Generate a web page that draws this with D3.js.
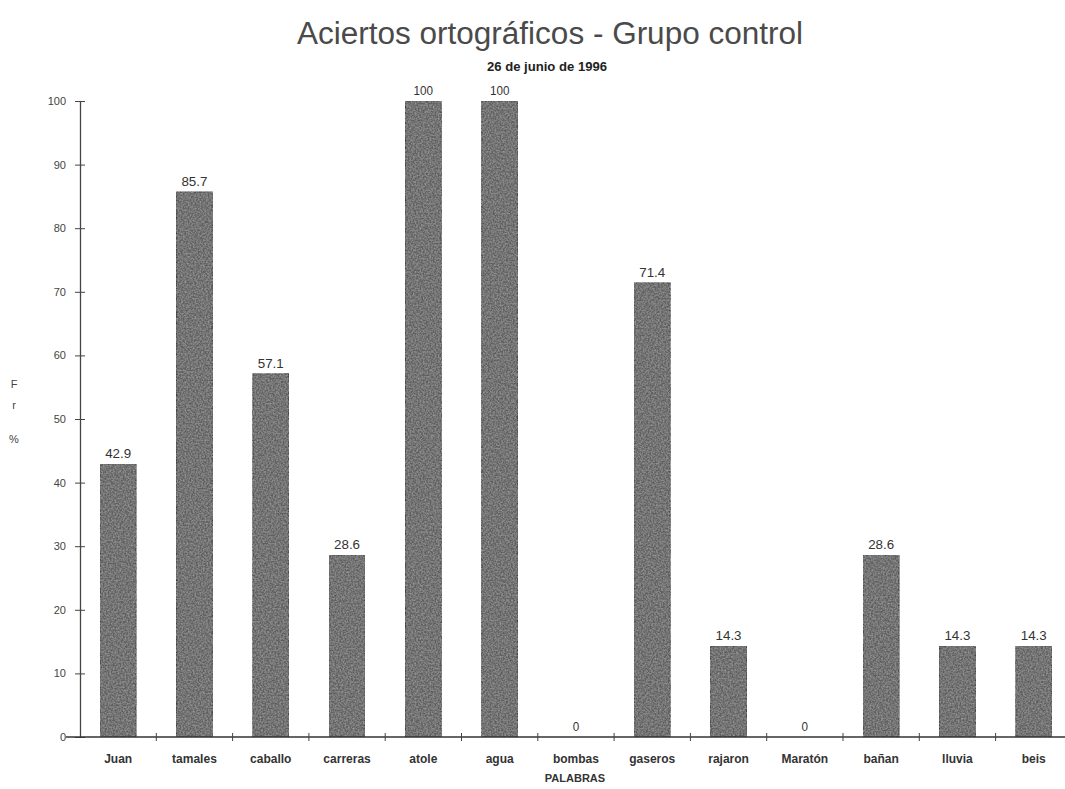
<!DOCTYPE html>
<html>
<head>
<meta charset="utf-8">
<script src="https://cdn.jsdelivr.net/npm/d3@7"></script>
<style>
  html, body { margin: 0; padding: 0; background: #fff; }
  svg { display: block; }
  text { font-family: "Liberation Sans", Arial, sans-serif; fill: #333; }
</style>
</head>
<body>
<svg id="chart" width="1065" height="789"></svg>
<script>
// Palabras evaluadas y porcentaje de aciertos
const palabras = ["Juan", "tamales", "caballo", "carreras", "atole", "agua", "bombas",
                  "gaseros", "rajaron", "Maratón", "bañan", "lluvia", "beis"];
const aciertos = [42.9, 85.7, 57.1, 28.6, 100, 100, 0, 71.4, 14.3, 0, 28.6, 14.3, 14.3];
const yTicks = [0, 10, 20, 30, 40, 50, 60, 70, 80, 90, 100];

const titulo = "Aciertos ortográficos - Grupo control";
const subtitulo = "26 de junio de 1996";
const ejeX = "PALABRAS";
const ejeY = ["F", "r", "%"];

const svg = d3.select("#chart");
const W = 1065;

// Textura granulada de las barras
const defs = svg.append("defs");
const f = defs.append("filter").attr("id", "grano").attr("x", 0).attr("y", 0).attr("width", 1).attr("height", 1);
f.append("feTurbulence").attr("type", "fractalNoise").attr("baseFrequency", 0.6).attr("numOctaves", 2).attr("seed", 3).attr("result", "ruido");
f.append("feColorMatrix").attr("in", "ruido").attr("type", "matrix")
  .attr("values", "0 0 0 0 0.33  0 0 0 0 0.33  0 0 0 0 0.33  0 0 0 -1.6 1.1").attr("result", "gris");
f.append("feComposite").attr("in", "gris").attr("in2", "SourceGraphic").attr("operator", "atop");

const x0 = 80, plotTop = 101, plotBottom = 737;

const x = d3.scaleBand()
  .domain(palabras)
  .range([x0, x0 + 13 * 76.3])
  .paddingInner(0.53)
  .paddingOuter(0.265);

const y = d3.scaleLinear().domain([0, 100]).range([plotBottom, plotTop]);

// Título
svg.append("text")
  .attr("x", 550).attr("y", 44)
  .attr("text-anchor", "middle")
  .attr("textLength", 506)
  .attr("lengthAdjust", "spacingAndGlyphs")
  .style("font-size", "31px")
  .style("fill", "#4a4a4a")
  .text(titulo);

svg.append("text")
  .attr("x", 547).attr("y", 71)
  .attr("text-anchor", "middle")
  .attr("textLength", 120)
  .attr("lengthAdjust", "spacingAndGlyphs")
  .style("font-size", "12px")
  .style("font-weight", "bold")
  .style("fill", "#222")
  .text(subtitulo);

// Barras
svg.append("g").selectAll("rect")
  .data(palabras)
  .join("rect")
  .attr("x", d => x(d))
  .attr("y", (d, i) => y(aciertos[i]))
  .attr("width", x.bandwidth())
  .attr("height", (d, i) => y(0) - y(aciertos[i]))
  .attr("fill", "#5e5e5e")
  .attr("stroke", "#3a3a3a")
  .attr("stroke-width", 1)
  .attr("filter", "url(#grano)");

// Valores sobre las barras
svg.append("g").selectAll("text")
  .data(palabras)
  .join("text")
  .attr("x", d => x(d) + x.bandwidth() / 2)
  .attr("y", (d, i) => y(aciertos[i]) - 6)
  .attr("text-anchor", "middle")
  .attr("textLength", (d, i) => String(aciertos[i]).length * 6.5)
  .attr("lengthAdjust", "spacingAndGlyphs")
  .style("font-size", "13px")
  .style("fill", "#333")
  .text((d, i) => String(aciertos[i]));

// Eje Y
const gy = svg.append("g")
  .attr("transform", `translate(${x0},0)`)
  .call(d3.axisLeft(y).tickValues(yTicks).tickSize(5).tickSizeOuter(0).tickPadding(9));
gy.select(".domain").attr("stroke", "#444").attr("stroke-width", 1.3);
gy.selectAll(".tick line").attr("x1", 5).attr("x2", -5).attr("stroke", "#444");
gy.selectAll(".tick text")
  .style("font-size", "11px")
  .style("fill", "#444");

// Eje X
const gx = svg.append("g")
  .attr("transform", `translate(0,${plotBottom})`)
  .call(d3.axisBottom(x).tickSize(0).tickPadding(17));
gx.select(".domain").remove();
gx.selectAll(".tick text")
  .style("font-size", "12px")
  .style("font-weight", "bold")
  .style("fill", "#333");

svg.append("line")
  .attr("x1", 66).attr("x2", W)
  .attr("y1", plotBottom).attr("y2", plotBottom)
  .attr("stroke", "#333").attr("stroke-width", 1.5);

// Marcas entre categorías
const limite = d => x(d) - x.step() * x.paddingInner() / 2;
svg.append("g").selectAll("line")
  .data(palabras.slice(1))
  .join("line")
  .attr("x1", limite)
  .attr("x2", limite)
  .attr("y1", plotBottom - 4).attr("y2", plotBottom + 4)
  .attr("stroke", "#444");

// Títulos de ejes
svg.append("text")
  .attr("x", 575).attr("y", 782)
  .attr("text-anchor", "middle")
  .style("font-size", "11px")
  .style("font-weight", "bold")
  .style("fill", "#333")
  .text(ejeX);

svg.append("g").selectAll("text")
  .data(ejeY)
  .join("text")
  .attr("x", 14)
  .attr("y", (d, i) => [388, 409, 443][i])
  .attr("text-anchor", "middle")
  .style("font-size", "11px")
  .style("fill", "#444")
  .text(d => d);
</script>
</body>
</html>
